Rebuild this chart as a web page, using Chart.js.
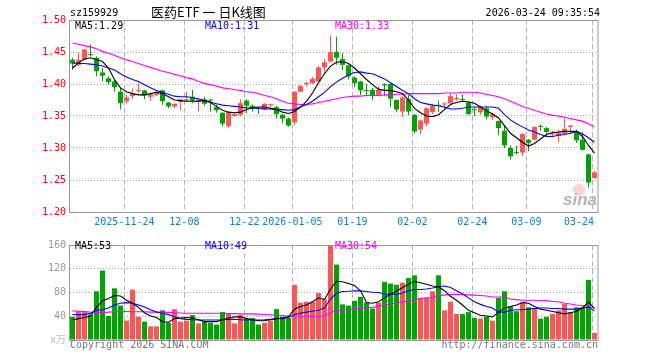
<!DOCTYPE html>
<html>
<head>
<meta charset="utf-8">
<script src="https://cdn.jsdelivr.net/npm/chart.js@4/dist/chart.umd.min.js"></script>
<style>
body { margin: 0; background: #fff; }
#wrap { position: relative; width: 660px; height: 360px; overflow: hidden; background: #fff;
        font-family: 'DejaVu Sans Mono', monospace; font-size: 10px; }
canvas { position: absolute; left: 0; }
.t { position: absolute; white-space: pre; line-height: 12px; }
</style>
</head>
<body>
<div id="wrap">
  <canvas id="kline" width="660" height="235" style="top:0"></canvas>
  <canvas id="vol" width="660" height="125" style="top:235px"></canvas>
  <div class="t" style="left:70px;top:7px;color:#000">sz159929</div>
  <div class="t" style="left:151px;top:4px;color:#000;font:13px 'Noto Sans CJK SC';line-height:16px">医药ETF 一 日K线图</div>
  <div class="t" style="right:60px;top:7px;color:#000">2026-03-24 09:35:54</div>
  <div class="t" id="lg5" style="left:75px;top:20px;color:#000"></div>
  <div class="t" id="lg10" style="left:205px;top:20px;color:#0000ff"></div>
  <div class="t" id="lg30" style="left:335px;top:20px;color:#ff00ff"></div>
  <div class="t" id="vlg5" style="left:75px;top:240px;color:#000"></div>
  <div class="t" id="vlg10" style="left:205px;top:240px;color:#0000ff"></div>
  <div class="t" id="vlg30" style="left:335px;top:240px;color:#ff00ff"></div>
  <div class="t" style="left:70px;top:339px;color:#777">Copyright 2026 SINA.COM</div>
  <div class="t" style="right:62px;top:339px;color:#777">http://finance.sina.com.cn</div>
</div>
<script>
const dates = [
  '2025-11-11','2025-11-12','2025-11-13','2025-11-14','2025-11-17','2025-11-18','2025-11-19','2025-11-20','2025-11-21','2025-11-24',
  '2025-11-25','2025-11-26','2025-11-27','2025-11-28','2025-12-01','2025-12-02','2025-12-03','2025-12-04','2025-12-05','2025-12-08',
  '2025-12-09','2025-12-10','2025-12-11','2025-12-12','2025-12-15','2025-12-16','2025-12-17','2025-12-18','2025-12-19','2025-12-22',
  '2025-12-23','2025-12-24','2025-12-25','2025-12-26','2025-12-29','2025-12-30','2025-12-31','2026-01-05','2026-01-06','2026-01-07',
  '2026-01-08','2026-01-09','2026-01-12','2026-01-13','2026-01-14','2026-01-15','2026-01-16','2026-01-19','2026-01-20','2026-01-21',
  '2026-01-22','2026-01-23','2026-01-26','2026-01-27','2026-01-28','2026-01-29','2026-01-30','2026-02-02','2026-02-03','2026-02-04',
  '2026-02-05','2026-02-06','2026-02-09','2026-02-10','2026-02-11','2026-02-12','2026-02-13','2026-02-24','2026-02-25','2026-02-26',
  '2026-02-27','2026-03-02','2026-03-03','2026-03-04','2026-03-05','2026-03-06','2026-03-09','2026-03-10','2026-03-11','2026-03-12',
  '2026-03-13','2026-03-16','2026-03-17','2026-03-18','2026-03-19','2026-03-20','2026-03-23','2026-03-24'
];
const tickDates = ['2025-11-24','2025-12-08','2025-12-22','2026-01-05','2026-01-19','2026-02-02','2026-02-24','2026-03-09','2026-03-24'];
const tickLabels = ['2025-11-24','12-08','12-22','2026-01-05','01-19','02-02','02-24','03-09','03-24'];
const priceTicks = [1.20, 1.25, 1.30, 1.35, 1.40, 1.45, 1.50];
const volTicks = [0, 40, 80, 120, 160];

const opens = [1.438,1.430,1.438,1.446,1.441,1.418,1.409,1.404,1.388,1.373, 1.381,1.389,1.390,1.380,1.383,1.390,1.371,1.365,1.372,1.374,
  1.380,1.372,1.376,1.375,1.364,1.355,1.334,1.350,1.352,1.374, 1.366,1.362,1.360,1.367,1.364,1.352,1.346,1.340,1.388,1.400,
  1.401,1.404,1.426,1.435,1.450,1.439,1.429,1.410,1.404,1.390, 1.391,1.383,1.400,1.400,1.375,1.357,1.376,1.352,1.329,1.338,
  1.356,1.367,1.368,1.370,1.376,1.376,1.371,1.360,1.356,1.362, 1.348,1.342,1.327,1.300,1.293,1.293,1.313,1.313,1.334,1.331,
  1.321,1.319,1.322,1.333,1.326,1.313,1.290,1.253];
const closes = [1.432,1.438,1.454,1.445,1.420,1.413,1.403,1.395,1.370,1.379, 1.385,1.390,1.382,1.384,1.388,1.373,1.365,1.369,1.376,1.376,
  1.374,1.376,1.369,1.374,1.359,1.338,1.356,1.353,1.370,1.366, 1.361,1.361,1.369,1.368,1.353,1.346,1.335,1.388,1.397,1.401,
  1.408,1.426,1.434,1.450,1.441,1.430,1.412,1.401,1.390,1.389, 1.381,1.391,1.398,1.377,1.360,1.379,1.357,1.326,1.343,1.362,
  1.366,1.366,1.369,1.381,1.378,1.375,1.353,1.359,1.364,1.349, 1.353,1.331,1.304,1.287,1.292,1.322,1.308,1.333,1.333,1.325,
  1.322,1.324,1.330,1.335,1.312,1.297,1.246,1.262];
const highs = [1.441,1.448,1.455,1.462,1.443,1.425,1.412,1.407,1.394,1.383, 1.393,1.401,1.391,1.385,1.390,1.391,1.372,1.370,1.376,1.388,
  1.391,1.377,1.380,1.377,1.368,1.356,1.357,1.355,1.376,1.376, 1.368,1.364,1.370,1.369,1.366,1.353,1.348,1.389,1.398,1.404,
  1.411,1.428,1.439,1.476,1.474,1.448,1.430,1.412,1.405,1.400, 1.394,1.397,1.401,1.401,1.376,1.381,1.383,1.353,1.344,1.364,
  1.369,1.374,1.371,1.385,1.384,1.384,1.373,1.364,1.366,1.366, 1.355,1.343,1.336,1.304,1.304,1.323,1.314,1.334,1.337,1.333,
  1.327,1.329,1.349,1.336,1.329,1.325,1.291,1.265];
const lows = [1.422,1.428,1.437,1.443,1.412,1.404,1.399,1.388,1.360,1.369, 1.376,1.386,1.376,1.373,1.381,1.367,1.362,1.362,1.359,1.373,
  1.370,1.357,1.366,1.357,1.355,1.334,1.331,1.349,1.350,1.354, 1.357,1.353,1.359,1.362,1.346,1.339,1.333,1.336,1.387,1.396,
  1.400,1.403,1.417,1.434,1.430,1.422,1.407,1.395,1.383,1.381, 1.375,1.381,1.381,1.364,1.356,1.348,1.351,1.323,1.321,1.334,
  1.353,1.356,1.361,1.369,1.374,1.373,1.352,1.350,1.352,1.345, 1.344,1.320,1.300,1.282,1.290,1.288,1.295,1.312,1.327,1.317,
  1.317,1.309,1.321,1.321,1.308,1.296,1.238,1.252];

const ma5 = [1.425,1.433,1.439,1.441,1.438,1.435,1.425,1.407,1.394,1.388, 1.385,1.383,1.383,1.385,1.387,1.385,1.380,1.375,1.374,1.373,
  1.373,1.373,1.374,1.371,1.365,1.359,1.356,1.355,1.356,1.360, 1.363,1.364,1.364,1.362,1.360,1.356,1.354,1.357,1.364,1.373,
  1.386,1.402,1.416,1.428,1.434,1.435,1.432,1.425,1.416,1.407, 1.399,1.392,1.390,1.390,1.388,1.385,1.375,1.362,1.355,1.350,
  1.349,1.352,1.360,1.368,1.371,1.373,1.372,1.370,1.364,1.358, 1.353,1.347,1.335,1.323,1.316,1.309,1.303,1.307,1.314,1.321,
  1.324,1.325,1.326,1.326,1.326,1.318,1.304,1.292];
const ma10 = [1.433,1.432,1.432,1.431,1.430,1.428,1.425,1.422,1.416,1.411, 1.407,1.404,1.399,1.394,1.390,1.387,1.384,1.381,1.380,1.380,
  1.379,1.377,1.374,1.372,1.369,1.367,1.366,1.365,1.364,1.363, 1.362,1.362,1.361,1.361,1.360,1.360,1.359,1.360,1.364,1.368,
  1.373,1.380,1.387,1.396,1.403,1.409,1.414,1.418,1.419,1.417, 1.416,1.412,1.408,1.402,1.396,1.390,1.385,1.377,1.371,1.369,
  1.367,1.366,1.364,1.361,1.361,1.362,1.364,1.364,1.364,1.364, 1.364,1.362,1.352,1.344,1.338,1.333,1.328,1.325,1.321,1.318,
  1.318,1.320,1.321,1.323,1.326,1.322,1.316,1.309];
const ma30 = [1.464,1.462,1.460,1.458,1.455,1.451,1.448,1.445,1.441,1.438, 1.435,1.432,1.429,1.426,1.423,1.420,1.418,1.415,1.413,1.410,
  1.408,1.404,1.401,1.399,1.397,1.394,1.393,1.391,1.390,1.388, 1.387,1.385,1.382,1.380,1.377,1.373,1.370,1.369,1.368,1.368,
  1.369,1.371,1.373,1.375,1.377,1.379,1.380,1.381,1.381,1.382, 1.382,1.382,1.383,1.383,1.384,1.384,1.385,1.385,1.385,1.385,
  1.385,1.385,1.386,1.386,1.386,1.387,1.387,1.387,1.386,1.384, 1.382,1.380,1.377,1.373,1.369,1.365,1.362,1.359,1.356,1.353,
  1.351,1.350,1.348,1.346,1.344,1.342,1.338,1.333];

const volumes = [39,48.5,48,43,82,117,40.5,87,58,32.5, 85,39,31,23,23,50,29,52,31,32.5,
  42,28,31,29,26,47,44,28,42,36, 37,26,29,32.5,52,39,37,93,63,64.5,
  64.5,79,68,160,127,60,58,66,72.5,63, 53,63,98,95,93,96.5,104.5,109,71,71,
  82,109,50,64.5,44,44,47,37,36,39, 32.5,71,82,56.5,48.5,63,55,53,36,39,
  44,50,61,47,55,55,101,12];
const vma5 = [33.6,36,38,40.5,55,66,70,75,74,67, 62,55,46,40.5,38,31,30,36,37,38,
  37,34,31,31,31,34,37,39,39,36, 34,32.5,32.5,34,36,37,39.5,52,56.5,59,
  64.5,71,68,86,99,98,95,92,83,63, 62,64.5,71,77,82,88.5,94,99,96.5,94,
  91,89.6,83,73.6,67,59,50,46,41.6,40.5, 39,47,54,56.5,59,63,62,56.5,52,50,
  48,46,44,46,48.5,54,64.5,53];
const vma10 = [43,42.7,42.7,45,50,51,54,59,62,63, 62,59,55.5,51,47,45,42.7,39,36,34.7,
  34,33.6,33.6,33.6,33.6,34,34.7,35,34,33.6, 33.6,33.6,34,35,35.7,36,38,43,45,47,
  48.5,50,54,69,79,81.6,82,83,82.7,81.6, 80.5,80,77,77,77,79,83,85,85,86,
  87.5,89.6,91,88.5,83,78,71,64.5,60,56.5, 54,47,47,50,51,51,52,53,54,54,
  53,53,52,52,52,54,55.5,49];
const vma30 = [49,48.5,48,47,46.5,46,47,47.5,48,48, 47.5,47.5,47.5,47,47,47,46.5,46,45.5,45,
  45,45,45,45,45,45,44.5,44.5,44,44, 44,43.5,43,42.5,41.6,41,40.5,40.5,40,40,
  40,40,40.5,46,50,50.5,51,52,53,54, 55,57,59,60.5,62,64,65.6,68,70,71,
  71.5,74,76,76.5,77,76.5,76,75.5,75,74, 72.5,72.5,72.5,69,68,67,67,67,66.5,66,
  65,64.5,62,60.5,59,58,56.5,54];

const upColor = '#ff5555';
const downColor = '#00a400';
const monoFont = "'DejaVu Sans Mono', 'Noto Sans CJK SC', monospace";

const tickIdx = tickDates.map(d => dates.indexOf(d));
const barColors = closes.map((c, i) => c >= opens[i] ? upColor : downColor);
// 6px per trading day, candle centres on half pixels
const xMin = -2.5 / 6;
const xMax = xMin + 88;

function points(arr) {
  return arr.map((v, i) => ({x: i, y: v}));
}
function ranges(a, b) {
  return a.map((v, i) => ({x: i, y: [v, b[i]]}));
}
function maLine(arr, color) {
  return {type: 'line', data: points(arr), borderColor: color, borderWidth: 1.1,
          pointRadius: 0, tension: 0, order: 0};
}

document.getElementById('lg5').textContent = 'MA5:' + ma5[ma5.length - 1].toFixed(2);
document.getElementById('lg10').textContent = 'MA10:' + ma10[ma10.length - 1].toFixed(2);
document.getElementById('lg30').textContent = 'MA30:' + ma30[ma30.length - 1].toFixed(2);
document.getElementById('vlg5').textContent = 'MA5:' + Math.round(vma5[vma5.length - 1]);
document.getElementById('vlg10').textContent = 'MA10:' + Math.round(vma10[vma10.length - 1]);
document.getElementById('vlg30').textContent = 'MA30:' + Math.round(vma30[vma30.length - 1]);

const framePlugin = {
  id: 'frame',
  afterDraw(chart) {
    const {ctx, chartArea: a} = chart;
    ctx.save();
    ctx.strokeStyle = '#999';
    ctx.lineWidth = 1;
    ctx.strokeRect(a.left - 0.5, a.top + 0.5, a.right - a.left + 0.5, a.bottom - a.top);
    ctx.restore();
  }
};

const dateLabelPlugin = {
  id: 'dateLabels',
  afterDraw(chart) {
    const {ctx, chartArea, scales: {x}} = chart;
    ctx.save();
    ctx.font = '10px ' + monoFont;
    ctx.fillStyle = '#0a7fd8';
    ctx.textBaseline = 'middle';
    tickIdx.forEach((idx, k) => {
      const px = x.getPixelForValue(idx - 0.35);
      const w = ctx.measureText(tickLabels[k]).width;
      let left = px - w / 2;
      if (left + w > chartArea.right - 4) left = chartArea.right - 4 - w;
      ctx.fillText(tickLabels[k], left, 222);
    });
    ctx.restore();
  }
};

const watermarkPlugin = {
  id: 'watermark',
  beforeDatasetsDraw(chart) {
    const {ctx, chartArea} = chart;
    ctx.save();
    ctx.fillStyle = 'rgba(255,110,110,0.3)';
    ctx.beginPath();
    ctx.arc(chartArea.right - 19, chartArea.bottom - 22, 6, 0, Math.PI * 2);
    ctx.fill();
    ctx.font = "italic bold 17px 'Liberation Sans', sans-serif";
    ctx.fillStyle = '#b4b4b4';
    ctx.textAlign = 'right';
    ctx.fillText('sina', chartArea.right - 1, chartArea.bottom - 7);
    ctx.restore();
  }
};

function xScale() {
  return {
    type: 'linear', min: xMin, max: xMax, offset: false,
    afterBuildTicks: s => { s.ticks = tickIdx.map(i => ({value: i - 0.35})); },
    afterFit: s => { s.height = 0; },
    ticks: {display: false},
    grid: {color: '#b4b4b4', drawTicks: false, offset: false},
    border: {display: false, dash: [5, 3]}
  };
}

new Chart(document.getElementById('kline'), {
  type: 'bar',
  data: {
    datasets: [
      maLine(ma5, '#000000'),
      maLine(ma10, '#0000ff'),
      maLine(ma30, '#ff00ff'),
      {data: ranges(opens, closes), backgroundColor: barColors, barThickness: 5,
       minBarLength: 1, grouped: false, inflateAmount: 0, order: 1},
      {data: ranges(lows, highs), backgroundColor: barColors, barThickness: 1,
       grouped: false, inflateAmount: 0, order: 2}
    ]
  },
  options: {
    responsive: false, animation: false, devicePixelRatio: 1,
    layout: {padding: {left: 0, right: 62, top: 20, bottom: 23}},
    plugins: {legend: {display: false}, tooltip: {enabled: false}},
    scales: {
      x: xScale(),
      y: {
        min: 1.2, max: 1.5,
        afterBuildTicks: s => { s.ticks = priceTicks.map(v => ({value: v})); },
        afterFit: s => { s.width = 70; },
        ticks: {color: '#ff0000', padding: 4, font: {family: monoFont, size: 10},
                callback: v => v.toFixed(2)},
        grid: {color: c => (c.tick && (c.tick.value === 1.2 || c.tick.value === 1.5)) ? 'rgba(0,0,0,0)' : '#a8a8a8',
               drawTicks: false},
        border: {display: false, dash: [1, 2]}
      }
    }
  },
  plugins: [watermarkPlugin, framePlugin, dateLabelPlugin]
});

new Chart(document.getElementById('vol'), {
  type: 'bar',
  data: {
    datasets: [
      maLine(vma5, '#000000'),
      maLine(vma10, '#0000ff'),
      maLine(vma30, '#ff00ff'),
      {data: points(volumes), backgroundColor: barColors, barThickness: 5,
       grouped: false, inflateAmount: 0, order: 1}
    ]
  },
  options: {
    responsive: false, animation: false, devicePixelRatio: 1,
    layout: {padding: {left: 0, right: 62, top: 5, bottom: 20}},
    plugins: {legend: {display: false}, tooltip: {enabled: false}},
    scales: {
      x: xScale(),
      y: {
        min: 0, max: 160,
        afterBuildTicks: s => { s.ticks = volTicks.map(v => ({value: v})); },
        afterFit: s => { s.width = 70; },
        ticks: {color: c => c.tick && c.tick.value === 0 ? '#bbbbbb' : '#999999', padding: 4,
                font: {family: monoFont, size: 10},
                callback: v => v === 0 ? 'x万' : String(v)},
        grid: {color: c => (c.tick && (c.tick.value === 0 || c.tick.value === 160)) ? 'rgba(0,0,0,0)' : '#a8a8a8',
               drawTicks: false},
        border: {display: false, dash: [1, 2]}
      }
    }
  },
  plugins: [framePlugin]
});
</script>
</body>
</html>
